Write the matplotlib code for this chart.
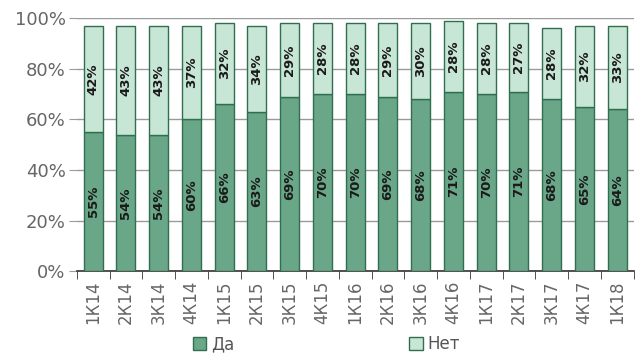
import matplotlib
matplotlib.use("Agg")
import matplotlib.pyplot as plt
import numpy as np

categories = ["1К14", "2К14", "3К14", "4К14", "1К15", "2К15", "3К15", "4К15", "1К16",
              "2К16", "3К16", "4К16", "1К17", "2К17", "3К17", "4К17", "1К18"]
da = [55, 54, 54, 60, 66, 63, 69, 70, 70, 69, 68, 71, 70, 71, 68, 65, 64]
net = [42, 43, 43, 37, 32, 34, 29, 28, 28, 29, 30, 28, 28, 27, 28, 32, 33]
yticks = [0, 20, 40, 60, 80, 100]

dark = "#6aa688"
light = "#c8e6d6"
edge = "#2f6e4e"

fig = plt.figure(figsize=(6.4, 3.63), dpi=100)
ax = fig.add_axes([0.12, 0.253, 0.87, 0.697])
x = np.arange(len(categories))
w = 0.58
ax.bar(x, da, w, color=dark, edgecolor=edge, linewidth=1, label="Да", zorder=3)
ax.bar(x, net, w, bottom=da, color=light, edgecolor=edge, linewidth=1, label="Нет", zorder=3)

for i in range(len(categories)):
    ax.text(x[i], da[i] / 2, f"{da[i]}%", rotation=90, ha="center", va="center",
            fontsize=9.5, fontweight="bold", color="#1a1a1a", zorder=4)
    ax.text(x[i], da[i] + net[i] / 2, f"{net[i]}%", rotation=90, ha="center", va="center",
            fontsize=9.5, fontweight="bold", color="#1a1a1a", zorder=4)

ax.set_ylim(0, 100)
ax.set_xlim(-0.5, len(categories) - 0.5)
ax.set_yticks(yticks)
ax.set_yticklabels([f"{v}%" for v in yticks], fontsize=13, color="#666666")
ax.yaxis.grid(True, color="#9a9a9a", linewidth=1, zorder=0)
ax.tick_params(axis="y", length=6, color="#9a9a9a", pad=2)
ax.set_xticks(x)
ax.set_xticklabels(categories, rotation=90, fontsize=12, color="#666666")
ax.tick_params(axis="x", length=0, pad=7)
ax.set_xticks(np.arange(-0.5, len(categories), 1), minor=True)
ax.tick_params(axis="x", which="minor", length=6, color="#333333")
for s in ["top", "right", "left"]:
    ax.spines[s].set_visible(False)
ax.spines["bottom"].set_color("#333333")
ax.spines["bottom"].set_linewidth(1.2)

fig.legend(loc="lower center", ncol=2, frameon=False, fontsize=12,
           bbox_to_anchor=(0.51, -0.015), columnspacing=10.5, handlelength=0.8,
           handleheight=0.8, handletextpad=0.3, labelcolor="#555555")
fig.savefig("out.png", dpi=100)
